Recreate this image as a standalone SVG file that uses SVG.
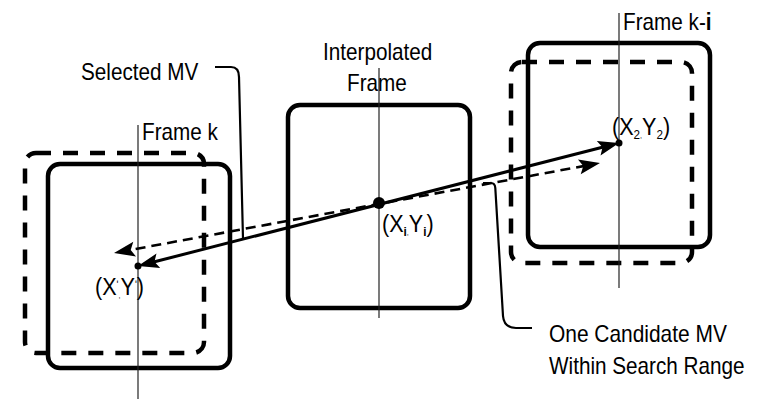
<svg xmlns="http://www.w3.org/2000/svg" width="763" height="399" viewBox="0 0 763 399">
  <style>
    text { font-family: "Liberation Sans", Arial, sans-serif; fill: #000; }
    .lbl { font-size: 23px; }
    .pt { font-size: 24px; }
    .sub { font-size: 13px; }
    .frame { fill: none; stroke: #000; stroke-width: 4.5; }
    .range { fill: none; stroke: #000; stroke-width: 4.5; stroke-dasharray: 15 12; }
    .axis { stroke: #222; stroke-width: 1.2; }
    .mv { fill: none; stroke: #000; stroke-width: 3; }
    .mv-dash { fill: none; stroke: #000; stroke-width: 2.6; stroke-dasharray: 10 6; }
    .leader { fill: none; stroke: #000; stroke-width: 2.2; }
  </style>
  <defs>
    <marker id="head" markerUnits="userSpaceOnUse" markerWidth="30" markerHeight="20" viewBox="-16 -10 26 20" refX="0" refY="0" orient="auto-start-reverse" overflow="visible">
      <path d="M6,0 L-15,-7.5 L-11,0 L-15,7.5 Z" fill="#000"/>
    </marker>
  </defs>
  <rect width="763" height="399" fill="#fff"/>

  <!-- Frame k -->
  <g id="frame-k">
    <rect class="range" x="25" y="153" width="179" height="200" rx="11"/>
    <rect class="frame" x="48" y="164" width="182" height="204" rx="12"/>
    <line class="axis" x1="138" y1="125" x2="138" y2="399"/>
    <text class="lbl" transform="translate(142,140) scale(0.9,1)">Frame k</text>
    <circle cx="138" cy="266" r="3.5"/>
    <text class="pt" transform="translate(95,295) scale(0.9,1)">(X<tspan font-size="11" dy="-7">ʹ</tspan><tspan font-size="8" dy="10">,</tspan><tspan dy="-3">Y</tspan><tspan font-size="11" dy="-7">ʹ</tspan><tspan dy="7">)</tspan></text>
  </g>

  <!-- Interpolated frame -->
  <g id="interpolated-frame">
    <rect class="frame" x="288" y="105" width="182" height="203" rx="12"/>
    <line class="axis" x1="379" y1="68" x2="379" y2="318"/>
    <text class="lbl" transform="translate(323,60) scale(0.9,1)">Interpolated</text>
    <text class="lbl" transform="translate(347,91) scale(0.9,1)">Frame</text>
    <circle cx="379" cy="203" r="6"/>
    <text class="pt" transform="translate(382,232) scale(0.9,1)">(X<tspan class="sub" font-weight="bold" dy="4">i</tspan><tspan font-size="8" dy="-1">,</tspan><tspan dy="-3">Y</tspan><tspan class="sub" font-weight="bold" dy="4">i</tspan><tspan dy="-4">)</tspan></text>
  </g>

  <!-- Frame k-i -->
  <g id="frame-k-i">
    <rect class="frame" x="528" y="43" width="182" height="204" rx="12"/>
    <rect class="range" x="511" y="62" width="181" height="201" rx="11"/>
    <line class="axis" x1="619" y1="13" x2="619" y2="288"/>
    <text class="lbl" transform="translate(623,30) scale(0.9,1)">Frame k-<tspan font-weight="bold">i</tspan></text>
    <circle cx="619" cy="143" r="3.5"/>
    <text class="pt" transform="translate(612,135) scale(0.9,1)">(X<tspan class="sub" dy="4">2</tspan><tspan font-size="8" dy="-1">,</tspan><tspan dy="-3">Y</tspan><tspan class="sub" dy="4">2</tspan><tspan dy="-4">)</tspan></text>
  </g>

  <!-- Motion vectors and callouts -->
  <g id="connectors">
    <path class="mv-dash" d="M119.9,251.9 L594.1,164.1" marker-start="url(#head)" marker-end="url(#head)"/>
    <path class="mv" d="M143.8,264.5 L613.2,144.5" marker-start="url(#head)" marker-end="url(#head)"/>
    <path class="leader" d="M215,67 L231,67 Q239,67 239,77 L243,239"/>
    <path class="leader" d="M483,183 L491,183 Q495,183 495.3,188 L503,316 Q504,328 516,328 L532,328"/>
  </g>

  <!-- Callout labels -->
  <g id="labels">
    <text class="lbl" transform="translate(81,80) scale(0.9,1)">Selected MV</text>
    <text class="lbl" transform="translate(549,342) scale(0.91,1)">One Candidate MV</text>
    <text class="lbl" transform="translate(549,374) scale(0.9,1)">Within Search Range</text>
  </g>
</svg>
